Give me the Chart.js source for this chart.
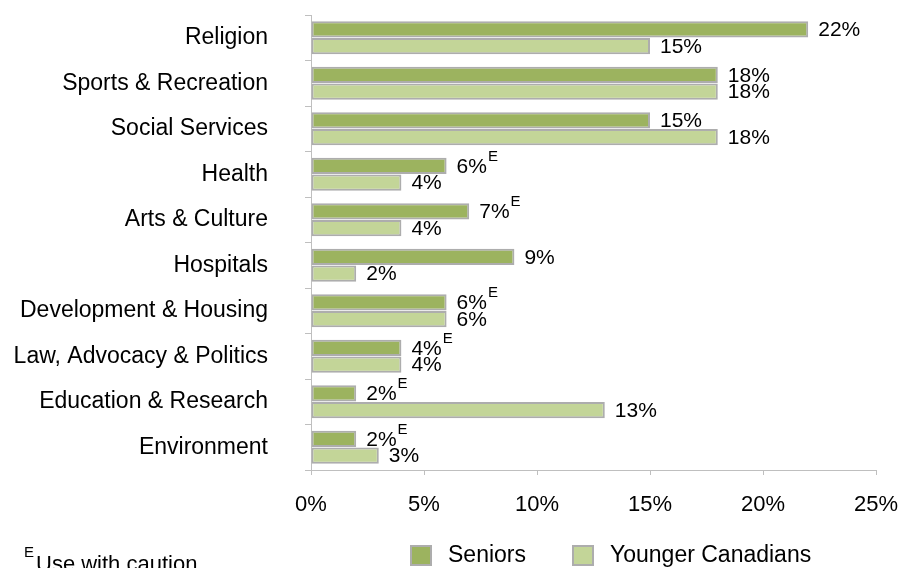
<!DOCTYPE html>
<html>
<head>
<meta charset="utf-8">
<script src="https://cdn.jsdelivr.net/npm/chart.js@4.4.1/dist/chart.umd.min.js"></script>
<style>
  html, body { margin: 0; padding: 0; background: #fff; }
  #wrap { width: 899px; height: 568px; }
</style>
</head>
<body>
<div id="wrap"><canvas id="chart"></canvas></div>
<script>
const categories = [
  "Religion",
  "Sports & Recreation",
  "Social Services",
  "Health",
  "Arts & Culture",
  "Hospitals",
  "Development & Housing",
  "Law, Advocacy & Politics",
  "Education & Research",
  "Environment",
];
const seniorsPct = [22, 18, 15, 6, 7, 9, 6, 4, 2, 2];
const youngerPct = [15, 18, 18, 4, 4, 2, 6, 4, 13, 3];
// values flagged "E" (use with caution)
const seniorsCaution = [false, false, false, true, true, false, true, true, true, true];
const youngerCaution = [false, false, false, false, false, false, false, false, false, false];
const footnote = "Use with caution";

const FONT = "'Liberation Sans', Arial, sans-serif";
const GRAY = "#BFBFBF";

// "22%" style labels after each bar, with a raised E where flagged
const valueLabels = {
  id: "valueLabels",
  afterDatasetsDraw(chart) {
    const ctx = chart.ctx;
    ctx.save();
    ctx.fillStyle = "#000";
    ctx.textAlign = "left";
    ctx.textBaseline = "middle";
    chart.data.datasets.forEach((ds, i) => {
      chart.getDatasetMeta(i).data.forEach((bar, j) => {
        const text = ds.data[j] + "%";
        const x = bar.x + 10;
        ctx.font = "21px " + FONT;
        ctx.fillText(text, x, bar.y + 1);
        if (ds.caution[j]) {
          const w = ctx.measureText(text).width;
          ctx.font = "15px " + FONT;
          ctx.fillText("E", x + w + 1, bar.y - 9);
        }
      });
    });
    ctx.restore();
  },
};

// legend row and footnote under the axis
const bottomNotes = {
  id: "bottomNotes",
  afterDraw(chart) {
    const ctx = chart.ctx;
    ctx.save();
    ctx.textAlign = "left";
    ctx.textBaseline = "middle";
    const slots = [410, 572];
    chart.data.datasets.forEach((ds, i) => {
      const x = slots[i];
      ctx.fillStyle = ds.backgroundColor;
      ctx.fillRect(x, 545, 22, 21);
      ctx.strokeStyle = ds.borderColor;
      ctx.lineWidth = 2;
      ctx.strokeRect(x + 1, 546, 20, 19);
      ctx.fillStyle = "#000";
      ctx.font = "23px " + FONT;
      ctx.fillText(ds.label, x + 38, 556);
    });
    ctx.font = "15px " + FONT;
    ctx.fillText("E", 24, 553);
    ctx.font = "22px " + FONT;
    ctx.fillText(footnote, 36, 565);
    ctx.restore();
  },
};

// keep the plot box where the layout padding puts it
function fixScale(size) {
  return (scale) => {
    if (scale.isHorizontal()) scale.height = size;
    else scale.width = size;
    scale.paddingTop = 0;
    scale.paddingBottom = 0;
    scale.paddingLeft = 0;
    scale.paddingRight = 0;
  };
}

new Chart(document.getElementById("chart"), {
  type: "bar",
  data: {
    labels: categories,
    datasets: [
      {
        label: "Seniors",
        data: seniorsPct,
        caution: seniorsCaution,
        backgroundColor: "#9CB35F",
        borderColor: "#ADADAD",
        borderWidth: 2,
        borderSkipped: false,
      },
      {
        label: "Younger Canadians",
        data: youngerPct,
        caution: youngerCaution,
        backgroundColor: "#C3D598",
        borderColor: "#ADADAD",
        borderWidth: 2,
        borderSkipped: false,
      },
    ],
  },
  options: {
    indexAxis: "y",
    responsive: true,
    maintainAspectRatio: false,
    animation: false,
    categoryPercentage: 0.74,
    barPercentage: 0.96,
    layout: {
      padding: { top: 15, right: 23, bottom: 0, left: 0 },
    },
    plugins: {
      legend: { display: false },
      tooltip: { enabled: false },
    },
    scales: {
      x: {
        min: 0,
        max: 25,
        grid: {
          drawOnChartArea: false,
          tickLength: 5,
          color: GRAY,
        },
        border: { color: GRAY },
        ticks: {
          stepSize: 5,
          color: "#000",
          font: { family: FONT, size: 22 },
          padding: 17,
          callback: (v) => v + "%",
        },
        afterFit: fixScale(98),
      },
      y: {
        grid: {
          drawOnChartArea: false,
          tickLength: 6,
          color: GRAY,
          offset: true,
        },
        border: { color: GRAY },
        ticks: {
          color: "#000",
          font: { family: FONT, size: 23 },
          padding: 37,
        },
        afterFit: fixScale(311),
      },
    },
  },
  plugins: [valueLabels, bottomNotes],
});
</script>
</body>
</html>
